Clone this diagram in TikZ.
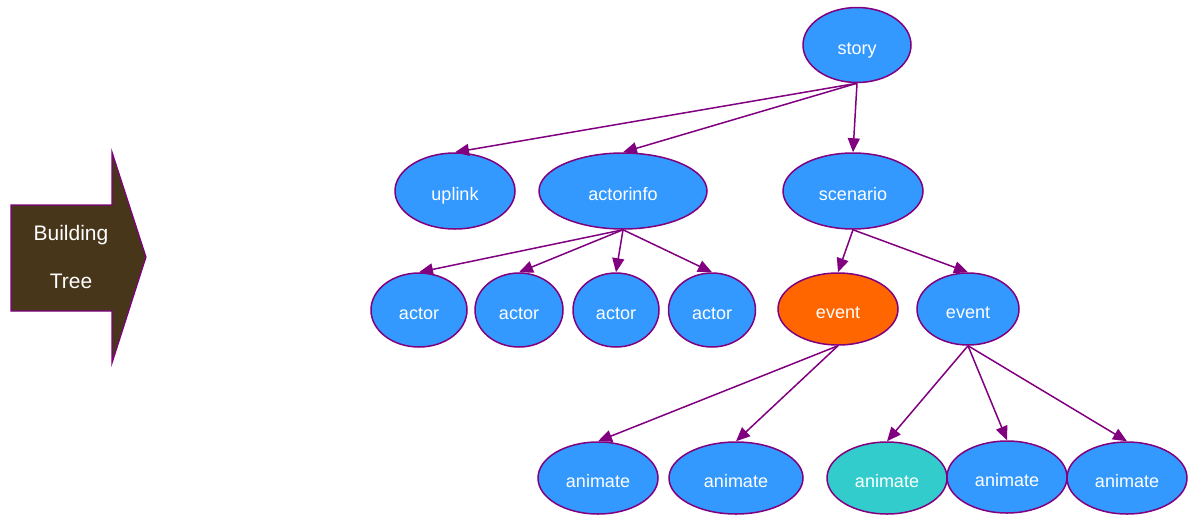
\documentclass[tikz,border=0pt]{standalone}
\usepackage{fontspec}
\setmainfont{Liberation Sans}
\usetikzlibrary{shapes.geometric,arrows.meta}
\definecolor{edgepurple}{HTML}{800080}
\definecolor{nodeblue}{HTML}{3399FF}
\definecolor{nodeorange}{HTML}{FF6600}
\definecolor{nodeteal}{HTML}{33CCCC}
\definecolor{arrowbrown}{HTML}{47361A}
\begin{document}
\begin{tikzpicture}[x=1pt,y=-1pt,
  tnode/.style={ellipse,draw=edgepurple,line width=1.5pt,fill=nodeblue,
    text=white,inner sep=0pt,text height=19pt,text depth=0pt,
    font=\fontsize{18}{20}\selectfont},
  link/.style={draw=edgepurple,line width=1.5pt,
    -{Triangle[length=14pt,width=12pt]}}]
\useasboundingbox (0,0) rectangle (1199,515);

% left banner arrow
\draw[draw=edgepurple,line width=1.2pt,fill=arrowbrown]
  (11,205) -- (112,205) -- (112,152) -- (146,257) -- (112,363) -- (112,311) -- (11,311) -- cycle;
\node[text=white,anchor=base,font=\fontsize{21}{24}\selectfont] (b1) at (71,240) {Building};
\node[text=white,anchor=base,font=\fontsize{21}{24}\selectfont] (b2) at (71,288) {Tree};

% tree nodes
\node[tnode,minimum width=108pt,minimum height=75pt] (story) at (857,45) {story};
\node[tnode,minimum width=120pt,minimum height=76pt] (uplink) at (455,191) {uplink};
\node[tnode,minimum width=168pt,minimum height=76pt] (actorinfo) at (623,191) {actorinfo};
\node[tnode,minimum width=140pt,minimum height=76pt] (scenario) at (853,191) {scenario};
\node[tnode,minimum width=96pt,minimum height=74pt] (actorA) at (419,310) {actor};
\node[tnode,minimum width=88pt,minimum height=74pt] (actorB) at (519,310) {actor};
\node[tnode,minimum width=86pt,minimum height=74pt] (actorC) at (616,310) {actor};
\node[tnode,minimum width=87pt,minimum height=74pt] (actorD) at (712,310) {actor};
\node[tnode,fill=nodeorange,minimum width=120pt,minimum height=72pt] (eventA) at (838,309) {event};
\node[tnode,minimum width=102pt,minimum height=72pt] (eventB) at (968,309) {event};
\node[tnode,minimum width=120pt,minimum height=72pt] (animA) at (598,478) {animate};
\node[tnode,minimum width=134pt,minimum height=72pt] (animB) at (736,478) {animate};
\node[tnode,fill=nodeteal,minimum width=120pt,minimum height=72pt] (animC) at (887,478) {animate};
\node[tnode,minimum width=120pt,minimum height=72pt] (animD) at (1007,477) {animate};
\node[tnode,minimum width=120pt,minimum height=72pt] (animE) at (1127,478) {animate};

% connectors
\draw[link] (story.south) -- (uplink.north);
\draw[link] (story.south) -- (actorinfo.north);
\draw[link] (story.south) -- (scenario.north);
\draw[link] (actorinfo.south) -- (actorA.north);
\draw[link] (actorinfo.south) -- (actorB.north);
\draw[link] (actorinfo.south) -- (actorC.north);
\draw[link] (actorinfo.south) -- (actorD.north);
\draw[link] (scenario.south) -- (eventA.north);
\draw[link] (scenario.south) -- (eventB.north);
\draw[link] (eventA.south) -- (animA.north);
\draw[link] (eventA.south) -- (animB.north);
\draw[link] (eventB.south) -- (animC.north);
\draw[link] (eventB.south) -- (animD.north);
\draw[link] (eventB.south) -- (animE.north);
\end{tikzpicture}
\end{document}
